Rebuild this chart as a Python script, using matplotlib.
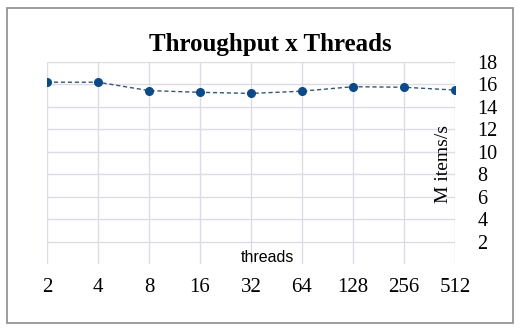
import matplotlib
matplotlib.use("Agg")
import matplotlib.pyplot as plt
from matplotlib.patches import Rectangle

plt.rcParams["font.family"] = ["Liberation Serif", "DejaVu Serif"]

threads = ["2", "4", "8", "16", "32", "64", "128", "256", "512"]
throughput = [16.2, 16.2, 15.45, 15.3, 15.2, 15.4, 15.8, 15.75, 15.5]
y_ticks = [2, 4, 6, 8, 10, 12, 14, 16, 18]

W, H = 524, 335
fig = plt.figure(figsize=(W / 100, H / 100), dpi=100)
fig.patch.set_facecolor("white")

# outer border
fig.patches.append(Rectangle((7 / W, (H - 323) / H), (513 - 7) / W, (323 - 8) / H,
                             transform=fig.transFigure, fill=False,
                             edgecolor="#8c8c8c", linewidth=1.2))

ax = fig.add_axes([47 / W, (H - 264) / H, (455 - 47) / W, (264 - 62) / H])
x = list(range(len(threads)))
ax.plot(x, throughput, linestyle=(0, (3, 2)), color="#3a5573", linewidth=1.0,
        marker="o", markersize=5.5, markerfacecolor="#0b4a87",
        markeredgecolor="#0b4a87", zorder=3)

ax.set_xlim(0, len(threads) - 1)
ax.set_ylim(0, 18)
ax.set_xticks(x)
ax.set_xticklabels(threads)
ax.set_yticks(y_ticks)
ax.yaxis.tick_right()
ax.tick_params(axis="x", length=0, labelsize=15, pad=10)
ax.tick_params(axis="y", length=0, labelsize=14.5, pad=16)
ax.grid(True, color="#dcdce6", linewidth=1.0)
ax.set_axisbelow(True)
for s in ax.spines.values():
    s.set_visible(False)

fig.text(270 / W, (H - 44) / H, "Throughput x Threads", ha="center", va="center",
         fontsize=18, fontweight="bold")
fig.text(443 / W, (H - 164) / H, "M items/s", ha="center", va="center", rotation=90,
         fontsize=14)
fig.text(267 / W, (H - 257) / H, "threads", ha="center", va="center",
         fontsize=11.5, family="Liberation Sans")

fig.savefig("out.png", dpi=100)
